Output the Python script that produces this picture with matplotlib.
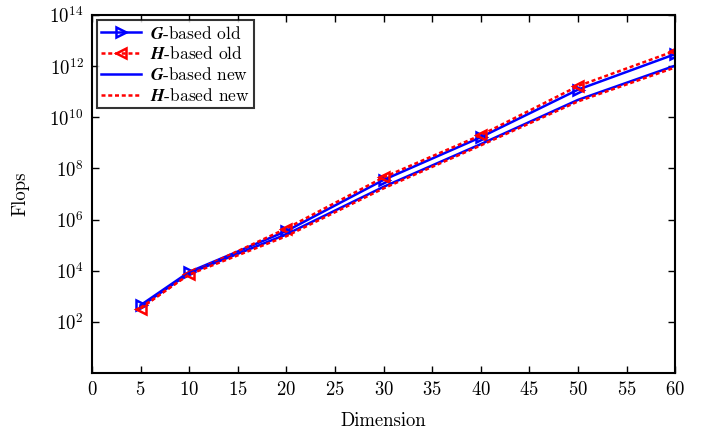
import matplotlib
matplotlib.use("Agg")
import matplotlib.pyplot as plt
import numpy as np

plt.rcParams['font.family'] = 'serif'
plt.rcParams['font.serif'] = ['cmr10', 'DejaVu Serif']
plt.rcParams['mathtext.fontset'] = 'custom'
plt.rcParams['mathtext.rm'] = 'cmr10'
plt.rcParams['mathtext.it'] = 'cmmi10'
plt.rcParams['mathtext.bf'] = 'STIXGeneral:italic:bold'
plt.rcParams['axes.formatter.use_mathtext'] = True

dims = [5, 10, 20, 30, 40, 50, 60]
g_old = [10**2.65, 10**3.95, 10**5.55, 10**7.55, 10**9.22, 10**11.08, 10**12.47]
h_old = [10**2.52, 10**3.88, 10**5.65, 10**7.65, 10**9.30, 10**11.22, 10**12.60]
g_new = [10**2.60, 10**3.90, 10**5.42, 10**7.28, 10**8.95, 10**10.68, 10**12.02]
h_new = [10**2.55, 10**3.85, 10**5.35, 10**7.22, 10**8.90, 10**10.62, 10**11.95]

fig = plt.figure(figsize=(7.07, 4.30), dpi=100)
ax = fig.add_axes([0.130, 0.1326, 0.825, 0.8325])

dash = (1.6, 1.1)
ax.plot(dims, g_old, color='blue', lw=1.8, marker='>', ms=6.5, mfc='none', mew=1.8,
        label=r'$\mathbf{G}$-based old')
ax.plot(dims, h_old, color='red', lw=1.8, ls='--', marker='<', ms=6.5, mfc='none', mew=1.8,
        label=r'$\mathbf{H}$-based old', dashes=dash)
ax.plot(dims, g_new, color='blue', lw=1.8, label=r'$\mathbf{G}$-based new')
ax.plot(dims, h_new, color='red', lw=1.8, ls='--', label=r'$\mathbf{H}$-based new', dashes=dash)

ax.set_yscale('log')
ax.set_xlim(0, 60)
ax.set_ylim(1e0, 1e14)
ax.set_xticks(np.arange(0, 61, 5))
ax.set_yticks([10.0**k for k in range(2, 15, 2)])
ax.set_yticklabels([r'$10^{%d}$' % k for k in range(2, 15, 2)])
ax.minorticks_off()
ax.tick_params(direction='in', top=True, right=True, labelsize=13.5, length=5, width=1.0, pad=6)
for s in ax.spines.values():
    s.set_linewidth(1.5)

ax.set_xlabel('Dimension', fontsize=13.5, labelpad=9)
ax.set_ylabel('Flops', fontsize=13.5, labelpad=14)

leg = ax.legend(loc='upper left', fontsize=12.5, frameon=True, fancybox=False,
                edgecolor='black', borderpad=0.25, handlelength=2.3, labelspacing=0.22,
                borderaxespad=0.3, handletextpad=0.5)
leg.get_frame().set_linewidth(1.5)

fig.savefig('out.png', dpi=100)
